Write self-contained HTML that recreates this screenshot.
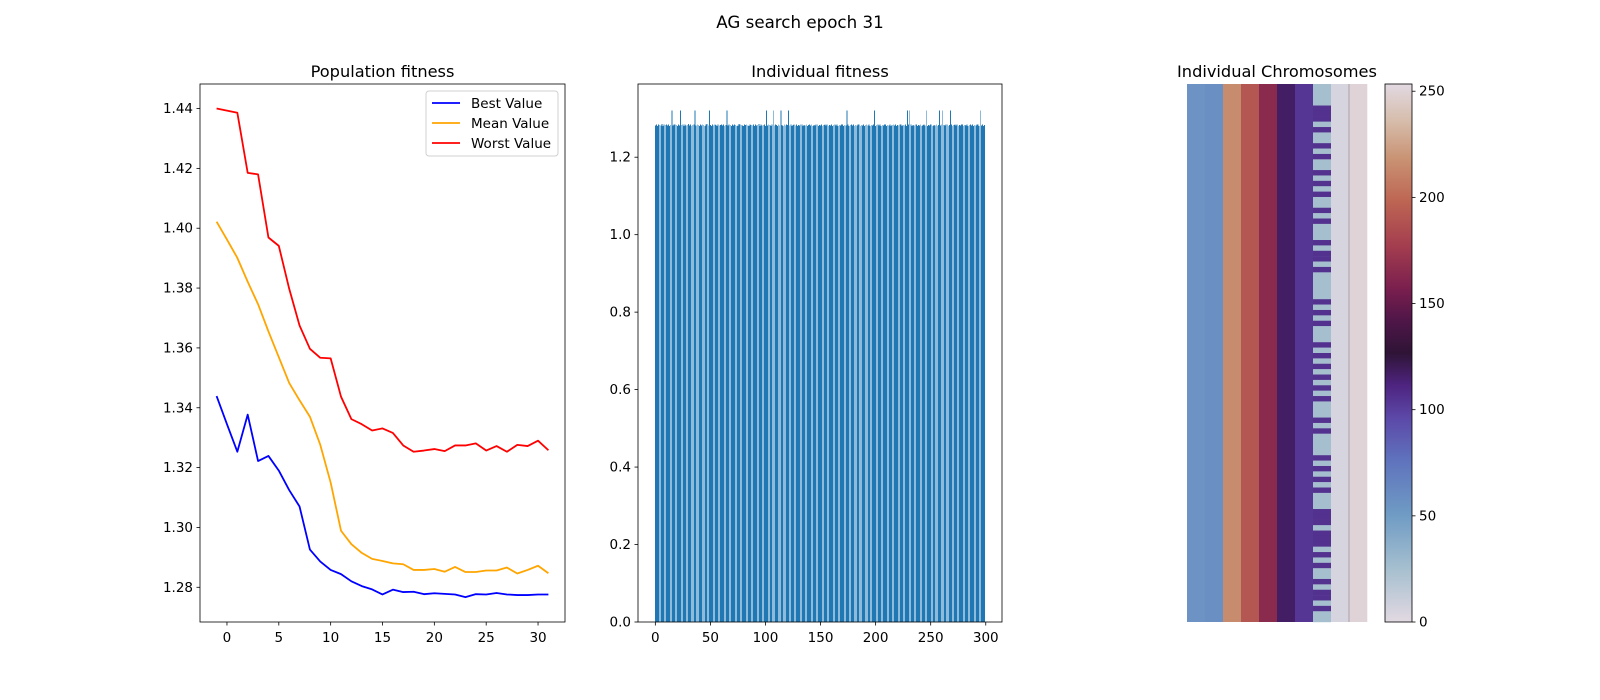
<!DOCTYPE html>
<html><head><meta charset="utf-8"><style>
html,body{margin:0;padding:0;background:#fff;}
svg{display:block;font-family:"DejaVu Sans","Liberation Sans",sans-serif;}
</style></head><body>
<svg id="fig" width="1600" height="700" viewBox="0 0 1600 700" xmlns="http://www.w3.org/2000/svg">
<rect width="1600" height="700" fill="#fff"/>
<text x="800" y="28" font-size="16.7" text-anchor="middle">AG search epoch 31</text>
<g id="left"></g><g id="mid"></g><g id="right"></g>
</svg>
<script>
// ---------- Data ----------
const epochs = [-1,0,1,2,3,4,5,6,7,8,9,10,11,12,13,14,15,16,17,18,19,20,21,22,23,24,25,26,27,28,29,30,31];
const bestValues = [1.3439,1.3345,1.3253,1.3377,1.3222,1.3239,1.3190,1.3125,1.3070,1.2926,1.2886,1.2858,1.2844,1.2820,1.2804,1.2793,1.2776,1.2792,1.2784,1.2785,1.2777,1.2780,1.2778,1.2776,1.2767,1.2777,1.2776,1.2781,1.2776,1.2774,1.2774,1.2776,1.2776];
const meanValues = [1.4022,1.3962,1.3901,1.3821,1.3746,1.3655,1.3569,1.3483,1.3425,1.3370,1.3276,1.3150,1.2989,1.2944,1.2915,1.2895,1.2888,1.2880,1.2877,1.2858,1.2858,1.2861,1.2852,1.2868,1.2851,1.2851,1.2856,1.2856,1.2866,1.2846,1.2858,1.2872,1.2847];
const worstValues = [1.4400,1.4393,1.4386,1.4185,1.4180,1.3969,1.3941,1.3798,1.3675,1.3597,1.3567,1.3565,1.3437,1.3362,1.3345,1.3324,1.3331,1.3316,1.3274,1.3253,1.3257,1.3262,1.3255,1.3274,1.3274,1.3281,1.3257,1.3272,1.3253,1.3276,1.3272,1.3290,1.3258];
const leftYTicks = [1.28,1.30,1.32,1.34,1.36,1.38,1.40,1.42,1.44];
const leftXTicks = [0,5,10,15,20,25,30];

const individualFitness = [
1.282,1.284,1.281,1.285,1.283,1.282,1.286,1.281,1.284,1.283,1.285,1.282,1.284,1.281,1.283,1.320,1.282,1.285,1.284,1.283,
1.281,1.284,1.282,1.320,1.283,1.285,1.281,1.284,1.282,1.283,1.286,1.282,1.284,1.281,1.283,1.285,1.320,1.282,1.284,1.283,
1.281,1.285,1.282,1.284,1.283,1.281,1.284,1.286,1.282,1.320,1.283,1.281,1.284,1.282,1.285,1.283,1.281,1.284,1.282,1.283,
1.285,1.282,1.284,1.281,1.283,1.320,1.282,1.284,1.283,1.281,1.285,1.282,1.284,1.283,1.281,1.282,1.286,1.284,1.283,1.282,
1.281,1.284,1.283,1.285,1.282,1.281,1.284,1.283,1.282,1.285,1.281,1.284,1.282,1.283,1.286,1.281,1.284,1.282,1.283,1.285,
1.281,1.320,1.282,1.284,1.283,1.281,1.285,1.320,1.282,1.284,1.283,1.281,1.284,1.282,1.320,1.283,1.281,1.284,1.282,1.285,
1.283,1.320,1.282,1.284,1.281,1.283,1.285,1.282,1.284,1.281,1.283,1.282,1.284,1.285,1.281,1.283,1.282,1.284,1.281,1.283,
1.285,1.282,1.284,1.281,1.283,1.282,1.284,1.285,1.281,1.283,1.282,1.284,1.281,1.283,1.285,1.282,1.284,1.281,1.283,1.282,
1.284,1.281,1.283,1.285,1.282,1.284,1.281,1.283,1.282,1.284,1.285,1.281,1.283,1.282,1.320,1.284,1.281,1.283,1.285,1.282,
1.284,1.281,1.283,1.282,1.284,1.285,1.281,1.283,1.282,1.284,1.281,1.283,1.285,1.282,1.284,1.281,1.283,1.282,1.284,1.320,
1.281,1.283,1.285,1.282,1.284,1.281,1.283,1.282,1.284,1.285,1.281,1.283,1.282,1.284,1.281,1.283,1.285,1.282,1.284,1.281,
1.283,1.282,1.284,1.285,1.281,1.283,1.282,1.284,1.281,1.320,1.285,1.320,1.284,1.281,1.283,1.282,1.284,1.285,1.281,1.283,
1.282,1.284,1.281,1.283,1.285,1.282,1.320,1.281,1.283,1.282,1.284,1.285,1.281,1.283,1.282,1.284,1.281,1.283,1.320,1.282,
1.284,1.320,1.283,1.282,1.284,1.285,1.281,1.283,1.320,1.284,1.281,1.283,1.285,1.282,1.284,1.281,1.283,1.282,1.284,1.285,
1.281,1.283,1.282,1.284,1.281,1.283,1.285,1.282,1.284,1.281,1.283,1.282,1.284,1.285,1.281,1.320,1.282,1.284,1.281,1.283];
const midYTicks = [0.0,0.2,0.4,0.6,0.8,1.0,1.2];
const midXTicks = [0,50,100,150,200,250,300];

const geneBase = [56,58,215,190,165,117,104,25,5,250];
const gene7Pattern = [1,1,1,1,0,0,0,1,0,1,1,0,1,0,1,1,0,1,0,1,0,1,1,0,1,0,1,1,1,0,1,0,0,1,0,1,1,1,1,1,0,1,0,1,0,1,1,1,0,1,0,1,0,1,0,1,0,1,0,1,1,1,0,1,0,1,1,1,1,0,1,0,1,0,1,0,1,1,1,0,0,0,1,0,0,0,1,0,1,0,1,1,0,1,0,0,1,0,1,1];
const gene7Values = [106,25];
const cbarTicks = [0,50,100,150,200,250];

// ---------- helpers ----------
const NS="http://www.w3.org/2000/svg";
function mk(tag, parent, attrs){const e=document.createElementNS(NS,tag);for(const k in attrs)e.setAttribute(k,attrs[k]);parent.appendChild(e);return e;}
function lin(d0,d1,r0,r1){return v=>r0+(v-d0)*(r1-r0)/(d1-d0);}

// ---------- Left: population fitness ----------
(function(){
 const g=document.getElementById('left');
 const L=200,R=565,T=84,B=622;
 const x=lin(-2.6,32.6,L,R), y=lin(1.2684,1.4482,B,T);
 leftYTicks.forEach(t=>{
  const tk=mk('line',g,{x1:L-3.5,x2:L,y1:y(t),y2:y(t),stroke:'#000','stroke-width':0.8});
  
  
  const tx=mk('text',g,{x:L-7,y:y(t)+4.5,'font-size':13.5,'text-anchor':'end'});tx.textContent=t.toFixed(2);
  
  
 });
 leftXTicks.forEach(t=>{
  const tk=mk('line',g,{x1:x(t),x2:x(t),y1:B,y2:B+3.5,stroke:'#000','stroke-width':0.8});
  
  
  const tx=mk('text',g,{x:x(t),y:B+20,'font-size':13.5,'text-anchor':'middle'});tx.textContent=t;
  
  
 });
 const series=[[bestValues,'#0000ff','best-value-line'],[meanValues,'#ffa500','mean-value-line'],[worstValues,'#ff0000','worst-value-line']];
 series.forEach(s=>{
  const p=mk('polyline',g,{points:epochs.map((e,i)=>x(e)+','+y(s[0][i])).join(' '),fill:'none',stroke:s[1],'stroke-width':1.8,'stroke-linejoin':'round'});
  
  
 });
 const fr=mk('rect',g,{x:L,y:T,width:R-L,height:B-T,fill:'none',stroke:'#000','stroke-width':0.8});
 
 
 const ti=mk('text',g,{x:(L+R)/2,y:T-7,'font-size':16.2,'text-anchor':'middle'});ti.textContent='Population fitness';
 
 
 const lg=mk('g',g,{});
 
 
 mk('rect',lg,{x:426,y:91,width:132,height:65,rx:3,fill:'#fff',stroke:'#d0d0d0','stroke-width':1});
 const names=['Best Value','Mean Value','Worst Value'],cols=['#0000ff','#ffa500','#ff0000'];
 names.forEach((n,i)=>{
  const yy=103+i*20;
  const ln=mk('line',lg,{x1:432,x2:460,y1:yy,y2:yy,stroke:cols[i],'stroke-width':1.8});
  
  
  const t=mk('text',lg,{x:471,y:yy+5,'font-size':13.5});t.textContent=n;
  
  
 });
})();

// ---------- Middle: individual fitness ----------
(function(){
 const g=document.getElementById('mid');
 const L=638,R=1002,T=84,B=622;
 const x=lin(-15.75,314.75,L,R), y=lin(0,1.389,B,T);
 individualFitness.forEach((v,i)=>{
  const b=mk('rect',g,{x:x(i-0.4),y:y(v),width:x(0.8)-x(0),height:B-y(v),fill:'#1f77b4','shape-rendering':'crispEdges'});
  
  
 });
 midYTicks.forEach(t=>{
  const tk=mk('line',g,{x1:L-3.5,x2:L,y1:y(t),y2:y(t),stroke:'#000','stroke-width':0.8});
  
  
  const tx=mk('text',g,{x:L-7,y:y(t)+4.5,'font-size':13.5,'text-anchor':'end'});tx.textContent=t.toFixed(1);
  
  
 });
 midXTicks.forEach(t=>{
  const tk=mk('line',g,{x1:x(t),x2:x(t),y1:B,y2:B+3.5,stroke:'#000','stroke-width':0.8});
  
  
  const tx=mk('text',g,{x:x(t),y:B+20,'font-size':13.5,'text-anchor':'middle'});tx.textContent=t;
  
  
 });
 const fr=mk('rect',g,{x:L,y:T,width:R-L,height:B-T,fill:'none',stroke:'#000','stroke-width':0.8});
 
 
 const ti=mk('text',g,{x:(L+R)/2,y:T-7,'font-size':16.2,'text-anchor':'middle'});ti.textContent='Individual fitness';
 
 
})();

// ---------- Right: chromosomes heatmap + colorbar ----------
const twStops=[[0,'#e2d9e2'],[0.10,'#a5bfcf'],[0.20,'#6f9bc4'],[0.30,'#5f73bd'],[0.38,'#5c48a8'],[0.44,'#4e2480'],[0.50,'#2f1436'],[0.56,'#4f1648'],[0.62,'#7a1f4e'],[0.70,'#a43e4f'],[0.78,'#bd6453'],[0.86,'#c99273'],[0.93,'#d6bcaa'],[1,'#e2d9e2']];
function hx(h){return [1,3,5].map(i=>parseInt(h.substr(i,2),16));}
function tw(v){v=Math.max(0,Math.min(1,v));for(let i=1;i<twStops.length;i++){if(v<=twStops[i][0]){const a=twStops[i-1],b=twStops[i];const f=(v-a[0])/(b[0]-a[0]);const ca=hx(a[1]),cb=hx(b[1]);return 'rgb('+ca.map((c,k)=>Math.round(c+(cb[k]-c)*f)).join(',')+')';}}return twStops[twStops.length-1][1];}
(function(){
 const g=document.getElementById('right');
 const L=1187,R=1367,T=84,B=622,VMAX=253.4;
 const cw=(R-L)/geneBase.length;
 const nInd=300;
 const rowY=lin(0,nInd,T,B);
 geneBase.forEach((v,c)=>{
  const r=mk('rect',g,{x:L+c*cw,y:T,width:cw+0.3,height:B-T,fill:tw(v/VMAX)});
  
  
 });
 gene7Pattern.forEach((p,i)=>{
  const r=mk('rect',g,{x:L+7*cw,y:rowY(i*3),width:cw,height:rowY(3)-rowY(0)+0.2,fill:tw(gene7Values[p]/VMAX)});
  
  
 });
 const sep=mk('line',g,{x1:L+9*cw,x2:L+9*cw,y1:T,y2:B,stroke:'#a8a2a8','stroke-width':1});
 
 
 const ti=mk('text',g,{x:1277,y:T-7,'font-size':16.2,'text-anchor':'middle'});ti.textContent='Individual Chromosomes';
 
 
 const CL=1385,CR=1412;
 const defs=mk('defs',g,{});
 const gr=mk('linearGradient',defs,{id:'twg',x1:0,y1:1,x2:0,y2:0});
 twStops.forEach(s=>mk('stop',gr,{offset:s[0],'stop-color':s[1]}));
 const cb=mk('rect',g,{x:CL,y:T,width:CR-CL,height:B-T,fill:'url(#twg)',stroke:'#000','stroke-width':0.8});
 
 
 const cy=lin(0,VMAX,B,T);
 cbarTicks.forEach(t=>{
  const tk=mk('line',g,{x1:CR,x2:CR+3.5,y1:cy(t),y2:cy(t),stroke:'#000','stroke-width':0.8});
  
  
  const tx=mk('text',g,{x:CR+7,y:cy(t)+4.5,'font-size':13.5});tx.textContent=t;
  
  
 });
})();
</script>
</body></html>
